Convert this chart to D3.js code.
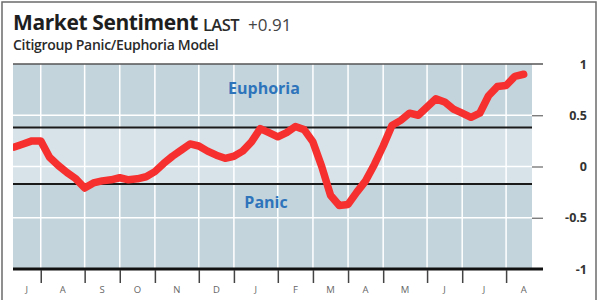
<!DOCTYPE html>
<html>
<head>
<meta charset="utf-8">
<script src="https://cdn.jsdelivr.net/npm/d3@7"></script>
<style>
    body { margin: 0; background: #fff; }
    svg { display: block; font-family: 'Open Sans', sans-serif; }
</style>
</head>
<body>
<svg id="chart" width="600" height="300"></svg>
<script>
// month labels along the bottom, and the week index where each new month starts
const months = ['J', 'A', 'S', 'O', 'N', 'D', 'J', 'F', 'M', 'A', 'M', 'J', 'J', 'A']
const monthStarts = [3, 8, 12, 16, 21, 25, 30, 34, 38, 42, 47, 51, 56]

// weekly readings of the panic/euphoria model
const weeks = d3.range(0, 59)
const sentiment = [
    0.19, 0.22, 0.25, 0.25, 0.09, 0.01, -0.06, -0.12, -0.21, -0.16,
    -0.14, -0.13, -0.11, -0.13, -0.12, -0.10, -0.05, 0.03, 0.10, 0.16,
    0.22, 0.20, 0.15, 0.11, 0.08, 0.10, 0.15, 0.24, 0.37, 0.33,
    0.29, 0.33, 0.39, 0.36, 0.24, 0.00, -0.28, -0.38, -0.37, -0.25,
    -0.14, 0.02, 0.20, 0.40, 0.45, 0.52, 0.50, 0.58, 0.66, 0.63,
    0.56, 0.52, 0.48, 0.52, 0.69, 0.78, 0.79, 0.88, 0.90
]

const yTicks = [1, 0.5, 0, -0.5, -1]
const yLabels = ['1', '0.5', '0', '-0.5', '-1']
const euphoriaLevel = 0.38
const panicLevel = -0.17
const lastValue = '+0.91'

const plotLeft = 13, plotRight = 532, plotTop = 64, plotBottom = 269
const svg = d3.select('#chart')

const x = d3.scaleLinear().domain([-0.16, 58.95]).range([plotLeft, plotRight])
const y = d3.scaleLinear().domain([-1, 1]).range([plotBottom, plotTop])

// outer frame
svg.append('rect')
    .attr('x', 2).attr('y', 2).attr('width', 594).attr('height', 302)
    .attr('fill', 'none').attr('stroke', '#6b6b6b').attr('stroke-width', 1.5)

// header
svg.append('text')
    .attr('x', 13).attr('y', 30)
    .attr('font-size', 21).attr('font-weight', 700).attr('fill', '#1e1e1e')
    .attr('letter-spacing', -0.4)
    .text('Market Sentiment')
svg.append('text')
    .attr('x', 203).attr('y', 31)
    .attr('font-size', 16.5).attr('font-weight', 600).attr('fill', '#2a2a2a')
    .attr('letter-spacing', -0.6)
    .text('LAST')
svg.append('text')
    .attr('x', 248).attr('y', 31)
    .attr('font-size', 17).attr('fill', '#444')
    .text(lastValue)
svg.append('text')
    .attr('x', 13).attr('y', 49.5)
    .attr('font-size', 14).attr('font-weight', 600).attr('fill', '#2a2a2a')
    .attr('letter-spacing', -0.3)
    .text('Citigroup Panic/Euphoria Model')

// background bands
const bands = [
    { from: euphoriaLevel, to: 1, fill: '#c4d4dd' },
    { from: panicLevel, to: euphoriaLevel, fill: '#d7e3e9' },
    { from: -1, to: panicLevel, fill: '#c4d4dd' }
]
svg.selectAll('.band')
    .data(bands)
    .enter()
    .append('rect')
    .attr('class', 'band')
    .attr('x', plotLeft)
    .attr('width', plotRight - plotLeft)
    .attr('y', (d) => y(d.to))
    .attr('height', (d) => y(d.from) - y(d.to))
    .attr('fill', (d) => d.fill)

// white grid
svg.selectAll('.grid-h')
    .data([0.5, 0, -0.5])
    .enter()
    .append('line')
    .attr('x1', plotLeft).attr('x2', plotRight)
    .attr('y1', (d) => y(d)).attr('y2', (d) => y(d))
    .attr('stroke', '#fff').attr('stroke-width', 1.5)

svg.selectAll('.grid-v')
    .data(monthStarts)
    .enter()
    .append('line')
    .attr('x1', (d) => x(d)).attr('x2', (d) => x(d))
    .attr('y1', plotTop).attr('y2', plotBottom)
    .attr('stroke', '#fff').attr('stroke-width', 1.5)

// panic / euphoria thresholds
svg.selectAll('.threshold')
    .data([euphoriaLevel, panicLevel])
    .enter()
    .append('line')
    .attr('x1', plotLeft).attr('x2', plotRight)
    .attr('y1', (d) => y(d)).attr('y2', (d) => y(d))
    .attr('stroke', '#1a1a1a').attr('stroke-width', 2)

svg.append('text')
    .attr('x', 264).attr('y', 94)
    .attr('text-anchor', 'middle')
    .attr('font-size', 16).attr('font-weight', 700).attr('fill', '#2e74bb')
    .text('Euphoria')
svg.append('text')
    .attr('x', 266).attr('y', 208)
    .attr('text-anchor', 'middle')
    .attr('font-size', 16).attr('font-weight', 700).attr('fill', '#2e74bb')
    .text('Panic')

// top rule and heavy baseline
svg.append('line')
    .attr('x1', plotLeft).attr('x2', 543)
    .attr('y1', y(1)).attr('y2', y(1))
    .attr('stroke', '#555').attr('stroke-width', 1.5)
svg.append('line')
    .attr('x1', plotLeft).attr('x2', 543)
    .attr('y1', y(-1)).attr('y2', y(-1))
    .attr('stroke', '#111').attr('stroke-width', 3)

// right axis
const yAxis = svg.append('g')
    .attr('transform', `translate(${plotRight},0)`)
    .call(d3.axisRight(y).tickValues(yTicks).tickSize(11).tickFormat((d, i) => yLabels[i]))
yAxis.select('.domain').remove()
yAxis.selectAll('.tick line')
    .attr('stroke', '#666').attr('stroke-width', 1.2)
    .attr('opacity', (d) => (d === 1 || d === -1) ? 0 : 1)
yAxis.selectAll('.tick text')
    .attr('x', 55).attr('text-anchor', 'end')
    .attr('font-size', 12.5).attr('font-weight', 700).attr('fill', '#333')
    .attr('font-family', "'Open Sans', sans-serif")

// bottom month axis
const xAxis = svg.append('g')
    .attr('transform', `translate(0,${plotBottom + 1})`)
    .call(d3.axisBottom(x).tickValues(monthStarts).tickSize(13).tickFormat(''))
xAxis.select('.domain').remove()
xAxis.selectAll('.tick line').attr('stroke', '#444').attr('stroke-width', 1.5)

const edges = [-0.16].concat(monthStarts, [60])
svg.selectAll('.month')
    .data(months)
    .enter()
    .append('text')
    .attr('class', 'month')
    .attr('x', (d, i) => x((edges[i] + edges[i + 1]) / 2))
    .attr('y', 293)
    .attr('text-anchor', 'middle')
    .attr('font-size', 9.5).attr('fill', '#666')
    .text((d) => d)

// sentiment line
svg.append('clipPath').attr('id', 'plot-clip')
    .append('rect')
    .attr('x', plotLeft).attr('y', 0).attr('width', plotRight - plotLeft).attr('height', 300)

const line = d3.line()
    .x((d, i) => x(weeks[i]))
    .y((d) => y(d))
    .curve(d3.curveLinear)

svg.append('path')
    .datum(sentiment)
    .attr('clip-path', 'url(#plot-clip)')
    .attr('d', line)
    .attr('fill', 'none')
    .attr('stroke', '#f5302f')
    .attr('stroke-width', 7.5)
    .attr('stroke-linejoin', 'round')
    .attr('stroke-linecap', 'round')
</script>
</body>
</html>
